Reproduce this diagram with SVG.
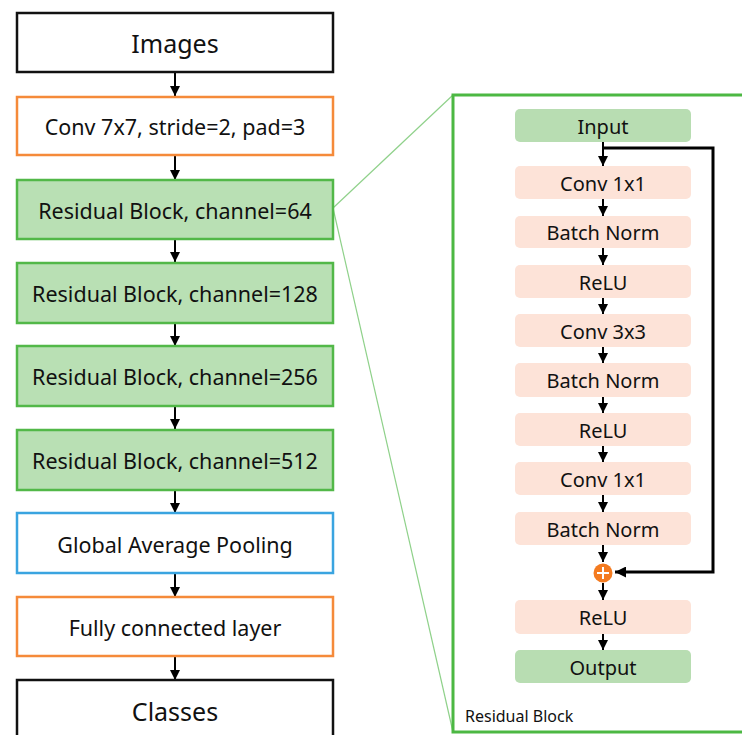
<svg xmlns="http://www.w3.org/2000/svg" width="742" height="735" viewBox="0 0 742 735">
<defs>
<marker id="ah" viewBox="0 0 10 10" refX="10" refY="5" markerWidth="10" markerHeight="10" markerUnits="userSpaceOnUse" orient="auto">
<path d="M0,0 L10,5 L0,10 z" fill="#000"/>
</marker>
<marker id="ah2" viewBox="0 0 10 10" refX="10" refY="5" markerWidth="11" markerHeight="11" markerUnits="userSpaceOnUse" orient="auto">
<path d="M0,0 L10,5 L0,10 z" fill="#000"/>
</marker>
</defs>
<style>
text{font-family:"Noto Sans","Open Sans","DejaVu Sans",sans-serif;fill:#111;text-anchor:middle;dominant-baseline:central}
.big{font-size:25px}
.mid{font-size:21.5px}
.in{font-size:20px}
.blk{fill:#fff;stroke:#111;stroke-width:2.5}
.org{fill:#fff;stroke:#f58a3a;stroke-width:2.5}
.blu{fill:#fff;stroke:#3aa4e0;stroke-width:2.5}
.grn{fill:#b9e0b4;stroke:#52b848;stroke-width:2.5}
.pk{fill:#fde3d8}
.gi{fill:#b8ddb2}
.arr{stroke:#000;stroke-width:2;fill:none;marker-end:url(#ah)}
.arr2{stroke:#000;stroke-width:2;fill:none;marker-end:url(#ah)}
.proj{stroke:#8fd18a;stroke-width:1.2;fill:none}
</style>
<g id="connectors">
<line class="proj" x1="333" y1="208" x2="453" y2="95"/>
<line class="proj" x1="333" y1="208" x2="453" y2="732"/>
<line class="arr" x1="175" y1="72" x2="175" y2="96"/>
<line class="arr" x1="175" y1="155" x2="175" y2="180"/>
<line class="arr" x1="175" y1="239" x2="175" y2="262"/>
<line class="arr" x1="175" y1="323" x2="175" y2="346"/>
<line class="arr" x1="175" y1="406" x2="175" y2="429"/>
<line class="arr" x1="175" y1="490" x2="175" y2="513"/>
<line class="arr" x1="175" y1="573" x2="175" y2="597"/>
<line class="arr" x1="175" y1="656" x2="175" y2="680"/>
<line class="arr2" x1="603" y1="142" x2="603" y2="166"/>
<line class="arr2" x1="603" y1="199" x2="603" y2="216"/>
<line class="arr2" x1="603" y1="248" x2="603" y2="265"/>
<line class="arr2" x1="603" y1="298" x2="603" y2="314"/>
<line class="arr2" x1="603" y1="347" x2="603" y2="363"/>
<line class="arr2" x1="603" y1="397" x2="603" y2="413"/>
<line class="arr2" x1="603" y1="446" x2="603" y2="462"/>
<line class="arr2" x1="603" y1="495" x2="603" y2="512"/>
<line class="arr2" x1="603" y1="545" x2="603" y2="562"/>
<line class="arr2" x1="603" y1="583" x2="603" y2="600"/>
<line class="arr2" x1="603" y1="634" x2="603" y2="650"/>
<polyline points="603,148 713,148 713,572 615,572" stroke="#000" stroke-width="3" fill="none" marker-end="url(#ah2)"/>
</g>
<g id="images"><rect class="blk" x="17" y="13" width="316" height="59"/><text class="big" x="175" y="43">Images</text></g>
<g id="conv7"><rect class="org" x="17" y="97" width="316" height="58"/><text class="mid" x="175" y="126">Conv 7x7, stride=2, pad=3</text></g>
<g id="res64"><rect class="grn" x="17" y="180" width="316" height="59"/><text class="mid" x="175" y="210">Residual Block, channel=64</text></g>
<g id="res128"><rect class="grn" x="17" y="263" width="316" height="60"/><text class="mid" x="175" y="293">Residual Block, channel=128</text></g>
<g id="res256"><rect class="grn" x="17" y="346" width="316" height="60"/><text class="mid" x="175" y="376">Residual Block, channel=256</text></g>
<g id="res512"><rect class="grn" x="17" y="430" width="316" height="60"/><text class="mid" x="175" y="460">Residual Block, channel=512</text></g>
<g id="gap"><rect class="blu" x="17" y="513" width="316" height="60"/><text class="mid" x="175" y="544">Global Average Pooling</text></g>
<g id="fc"><rect class="org" x="17" y="597" width="316" height="59"/><text class="mid" x="175" y="627">Fully connected layer</text></g>
<g id="classes"><rect class="blk" x="17" y="680" width="316" height="70"/><text class="big" x="175" y="711">Classes</text></g>
<g id="panel"><rect x="453" y="95" width="300" height="637" fill="none" stroke="#4cb843" stroke-width="3"/><text x="465" y="716" style="font-size:16px;text-anchor:start">Residual Block</text></g>
<g id="input"><rect class="gi" x="515" y="109" width="176" height="33" rx="5"/><text class="in" x="603" y="126">Input</text></g>
<g id="conv1a"><rect class="pk" x="515" y="166" width="176" height="33" rx="5"/><text class="in" x="603" y="183">Conv 1x1</text></g>
<g id="bn1"><rect class="pk" x="515" y="216" width="176" height="32" rx="5"/><text class="in" x="603" y="232">Batch Norm</text></g>
<g id="relu1"><rect class="pk" x="515" y="265" width="176" height="33" rx="5"/><text class="in" x="603" y="282">ReLU</text></g>
<g id="conv3"><rect class="pk" x="515" y="314" width="176" height="33" rx="5"/><text class="in" x="603" y="331">Conv 3x3</text></g>
<g id="bn2"><rect class="pk" x="515" y="363" width="176" height="34" rx="5"/><text class="in" x="603" y="380">Batch Norm</text></g>
<g id="relu2"><rect class="pk" x="515" y="413" width="176" height="33" rx="5"/><text class="in" x="603" y="430">ReLU</text></g>
<g id="conv1b"><rect class="pk" x="515" y="462" width="176" height="33" rx="5"/><text class="in" x="603" y="479">Conv 1x1</text></g>
<g id="bn3"><rect class="pk" x="515" y="512" width="176" height="33" rx="5"/><text class="in" x="603" y="529">Batch Norm</text></g>
<g id="add"><circle cx="603" cy="573" r="9.5" fill="#f47b20"/><path d="M603,567 V579 M597,573 H609" stroke="#fff" stroke-width="2"/></g>
<g id="relu3"><rect class="pk" x="515" y="600" width="176" height="34" rx="5"/><text class="in" x="603" y="617">ReLU</text></g>
<g id="output"><rect class="gi" x="515" y="650" width="176" height="33" rx="5"/><text class="in" x="603" y="667">Output</text></g>
</svg>
